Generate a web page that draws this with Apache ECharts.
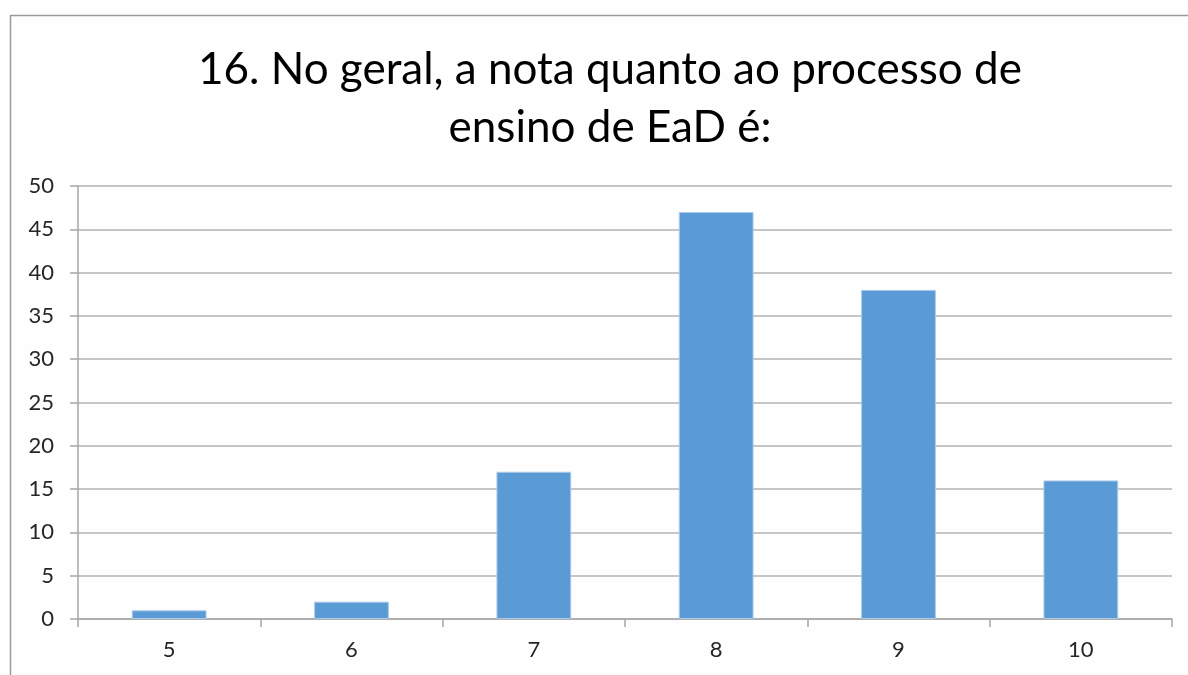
<!DOCTYPE html>
<html>
<head>
<meta charset="utf-8">
<script src="https://cdn.jsdelivr.net/npm/echarts@6/dist/echarts.min.js"></script>
<style>html,body{margin:0;padding:0;background:#fff;}#c{width:1188px;height:675px;}</style>
</head>
<body>
<div id="c"></div>
<script>
const titleText = "16. No geral, a nota quanto ao processo de\nensino de EaD é:";
const categories = ["5", "6", "7", "8", "9", "10"];
const values = [1, 2, 17, 47, 38, 16];
const yTicks = { min: 0, max: 50, interval: 5 };

const chart = echarts.init(document.getElementById('c'), null, { renderer: 'canvas' });
chart.setOption({
  backgroundColor: '#fefefe',
  animation: false,
  title: {
    text: titleText,
    left: 605,
    top: 36,
    textAlign: 'center',
    textStyle: { fontFamily: 'Lato', fontSize: 44, fontWeight: 'normal', color: '#000', lineHeight: 58 }
  },
  graphic: [
    { type: 'line', shape: { x1: 10, y1: 15.5, x2: 1188, y2: 15.5 }, style: { stroke: '#9a9a9a', lineWidth: 1.5 } },
    { type: 'line', shape: { x1: 10.5, y1: 15, x2: 10.5, y2: 675 }, style: { stroke: '#9a9a9a', lineWidth: 1.5 } }
  ],
  grid: { left: 78, right: 16, top: 186, bottom: 56 },
  xAxis: {
    type: 'category',
    data: categories,
    axisLine: { lineStyle: { color: '#a6a6a6', width: 1.5 } },
    axisTick: { show: true, length: 8, alignWithLabel: false, lineStyle: { color: '#a6a6a6', width: 1.5 } },
    axisLabel: { fontFamily: 'Lato', fontSize: 22, color: '#262626', margin: 20 }
  },
  yAxis: {
    type: 'value',
    min: yTicks.min, max: yTicks.max, interval: yTicks.interval,
    axisLine: { show: true, lineStyle: { color: '#a6a6a6', width: 1.5 } },
    axisTick: { show: true, length: 8, lineStyle: { color: '#a6a6a6', width: 1.5 } },
    splitLine: { lineStyle: { color: '#b3b3b3', width: 1.5 } },
    axisLabel: { fontFamily: 'Lato', fontSize: 22, color: '#262626', margin: 24 }
  },
  series: [{
    type: 'bar',
    data: values,
    barCategoryGap: '59%',
    itemStyle: { color: '#5b9bd5', borderColor: '#a8c9ea', borderWidth: 1 }
  }]
});
</script>
</body>
</html>
